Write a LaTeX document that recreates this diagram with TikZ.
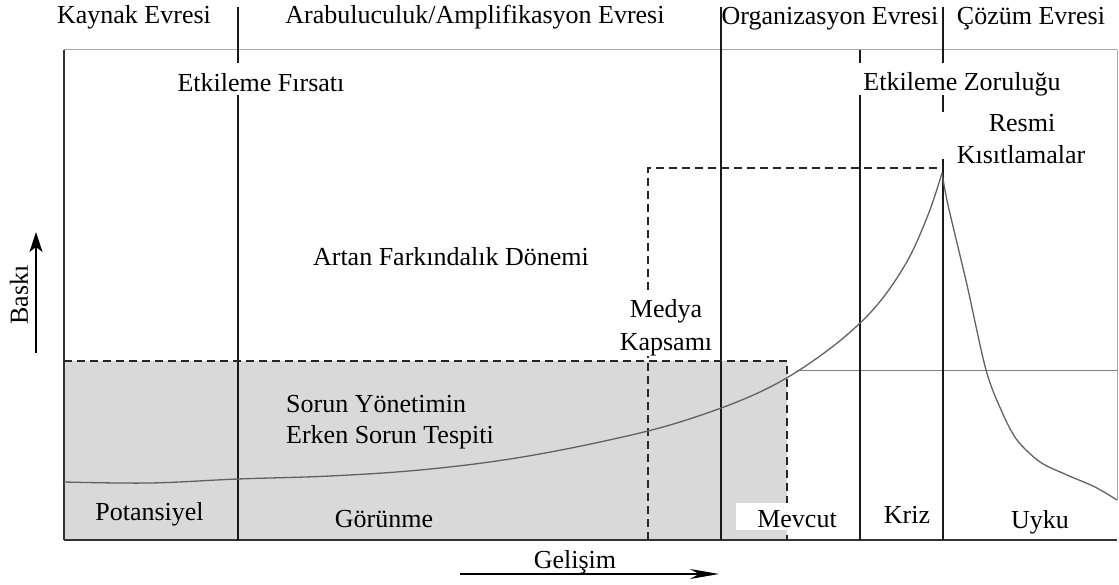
\documentclass[tikz,border=0pt]{standalone}
\usepackage{fontspec}
\setmainfont{Liberation Serif}
\usetikzlibrary{arrows.meta}
\begin{document}
\begin{tikzpicture}[x=1pt,y=-1pt,
  lbl/.style={font=\fontsize{26}{31}\selectfont, inner sep=0pt, anchor=base},
  lblw/.style={lbl, anchor=base west},
  divider/.style={line width=1.4pt, black!90},
  frameline/.style={line width=1.2pt, black!80},
  faint/.style={line width=1pt, black!35},
  midline/.style={line width=1pt, black!50},
  dline/.style={dash pattern=on 8pt off 5pt, line width=1.4pt, black!85},
  trend/.style={line width=1.3pt, black!62},
  axis/.style={line width=1.2pt, black},
]
\useasboundingbox (0,0) rectangle (1119,585);

% shaded early-detection area
\fill[black!15] (64,361) rectangle (787,540);

% frame
\draw[faint] (64,50) -- (1117,50);
\draw[faint] (1117,50) -- (1117,500);
\draw[frameline] (64,50) -- (64,540);
\draw[frameline] (64,540) -- (1117,540);
\draw[midline] (797,370) -- (1117,370);

% phase dividers
\draw[divider] (238,7) -- (238,63);
\draw[divider] (238,95) -- (238,540);
\draw[divider] (721,7) -- (721,540);
\draw[divider] (860,50) -- (860,63);
\draw[divider] (860,95) -- (860,540);
\draw[divider] (943,7) -- (943,63);
\draw[divider] (943,95) -- (943,112);
\draw[divider] (943,159) -- (943,540);

% dashed outlines
\draw[dline] (64,361) -- (787,361) -- (787,540);
\draw[dline] (648,540) -- (648,356);
\draw[dline] (648,290) -- (648,168) -- (943,168);

% pressure curve
\draw[trend] plot[smooth, tension=0.6] coordinates {
  (64,482) (150,483) (238,479) (330,476) (420,470) (510,459) (600,442)
  (680,422) (760,392) (820,356) (870,313) (905,265) (928,215) (942,173)};
\draw[trend] plot[smooth, tension=0.5] coordinates {
  (942,173) (948,205) (967,285) (986,370) (1002,412) (1017,440)
  (1040,462) (1067,475) (1095,487) (1117,500)};

% axes
\draw[axis, -{Stealth[length=20pt, width=13pt, inset=5pt]}] (36,353) -- (36,232);
\node[font=\fontsize{26}{31}\selectfont, inner sep=0pt, rotate=90] (baski) at (19,295) {Baskı};
\draw[axis, -{Stealth[length=29pt, width=10pt, inset=9pt]}] (460,574) -- (719,574);
\node[lbl] (gelisim) at (575,568) {Gelişim};

% phase headings
\node[lbl] (kaynak) at (134,24) {Kaynak Evresi};
\node[lbl] (arabulucu) at (475,24) {Arabuluculuk/Amplifikasyon Evresi};
\node[lbl] (organizasyon) at (830,25) {Organizasyon Evresi};
\node[lbl] (cozum) at (1031,25) {Çözüm Evresi};

% region labels
\node[lbl] (firsat) at (261,92) {Etkileme Fırsatı};
\node[lbl] (zorluk) at (962,91) {Etkileme Zoruluğu};
\node[lbl] (resmi) at (1022,132) {Resmi};
\node[lbl] (kisit) at (1021,164) {Kısıtlamalar};
\node[lbl] (farkindalik) at (451,266) {Artan Farkındalık Dönemi};
\fill[white] (618,292) rectangle (716,355);
\node[lbl] (medya) at (666,318) {Medya};
\node[lbl] (kapsam) at (666,350) {Kapsamı};
\node[lblw] (sorun) at (286,412) {Sorun Yönetimin};
\node[lblw] (erken) at (286,443) {Erken Sorun Tespiti};

% stage labels
\node[lbl] (potansiyel) at (149.5,520) {Potansiyel};
\node[lbl] (gorunme) at (384,527) {Görünme};
\fill[white] (736,503) rectangle (845,530);
\node[lbl] (mevcut) at (797,527) {Mevcut};
\node[lbl] (kriz) at (907,523) {Kriz};
\node[lbl] (uyku) at (1040,528) {Uyku};
\end{tikzpicture}
\end{document}
